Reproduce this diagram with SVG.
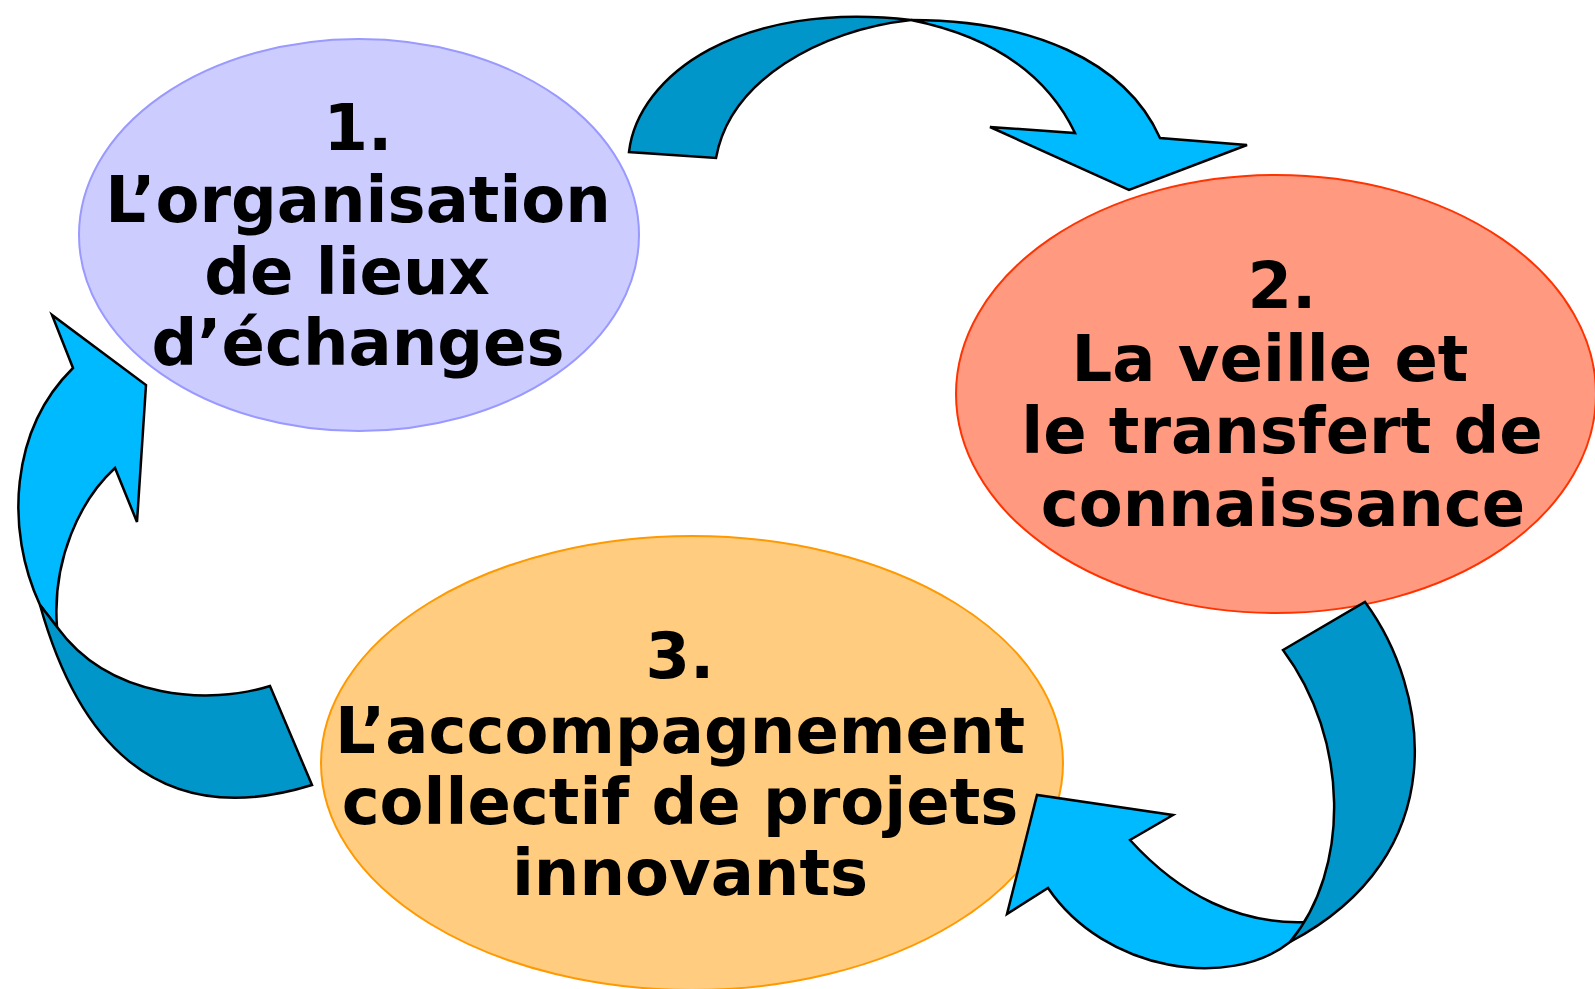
<svg xmlns="http://www.w3.org/2000/svg" width="1595" height="989" viewBox="0 0 1595 989">
<style>
.lbl{font-family:"DejaVu Sans","Verdana",sans-serif;font-weight:bold;font-size:64px;fill:#000;text-anchor:middle}
.lt{fill:#00BAFF;stroke:#000;stroke-width:2.5;stroke-linejoin:miter}
.dk{fill:#0096CA;stroke:#000;stroke-width:2.5;stroke-linejoin:miter}
</style>
<rect width="1595" height="989" fill="#fff"/>
<g id="node1">
<ellipse cx="359" cy="235" rx="280" ry="196" fill="#CCCCFF" stroke="#9999FF" stroke-width="2"/>
<text class="lbl" x="358" y="150">1.</text>
<text class="lbl" x="358" y="222">L’organisation</text>
<text class="lbl" x="347" y="294">de lieux</text>
<text class="lbl" x="358" y="365">d’échanges</text>
</g>
<g id="node2">
<ellipse cx="1276" cy="394" rx="320" ry="219" fill="#FF9980" stroke="#FF3300" stroke-width="2"/>
<text class="lbl" x="1282" y="308">2.</text>
<text class="lbl" x="1270" y="381">La veille et</text>
<text class="lbl" x="1282" y="453">le transfert de</text>
<text class="lbl" x="1283" y="526">connaissance</text>
</g>
<g id="node3">
<ellipse cx="692" cy="763" rx="371" ry="227" fill="#FFCC80" stroke="#FF9900" stroke-width="2"/>
<text class="lbl" x="680" y="678">3.</text>
<text class="lbl" x="680" y="753">L’accompagnement</text>
<text class="lbl" x="680" y="824">collectif de projets</text>
<text class="lbl" x="690" y="895">innovants</text>
</g>
<g id="connectors">
<!-- top arrow 1 -> 2 -->
<path class="dk" d="M629,152 C638,75 740,0 911,20 C820,30 730,80 716,158 Z"/>
<path class="lt" d="M911,20 C1030,20 1125,60 1160,138 L1247,145 L1129,190 L990,127 L1075,133 C1045,70 985,35 911,20 Z"/>
<!-- right arrow 2 -> 3 -->
<path class="lt" d="M1290,942 C1230,990 1105,972 1048,888 L1007,914 L1037,795 L1173,815 L1130,840 C1180,895 1240,925 1307,922 Z"/>
<path class="dk" d="M1283,650 L1365,602 C1430,690 1455,855 1290,942 C1350,870 1350,740 1283,650 Z"/>
<!-- left arrow 3 -> 1 -->
<path class="lt" d="M40,605 C5,530 10,430 73,368 L52,315 L146,385 L137,522 L115,468 C80,500 52,560 57,627 Z"/>
<path class="dk" d="M40,605 C75,730 150,835 312,785 L270,686 C210,705 110,700 57,627 Z"/>
</g>
</svg>
